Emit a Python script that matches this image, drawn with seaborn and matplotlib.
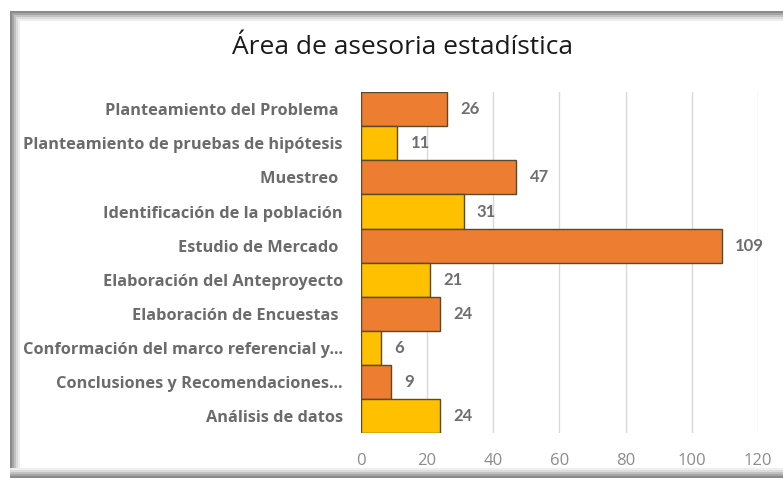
import pandas as pd
import seaborn as sns
import matplotlib.pyplot as plt
from matplotlib.patches import Rectangle

# some of the original labels carry a trailing space
categories = [
    'Planteamiento del Problema ',
    'Planteamiento de pruebas de hipótesis',
    'Muestreo ',
    'Identificación de la población',
    'Estudio de Mercado ',
    'Elaboración del Anteproyecto',
    'Elaboración de Encuestas ',
    'Conformación del marco referencial y...',
    'Conclusiones y Recomendaciones...',
    'Análisis de datos',
]
values = [26, 11, 47, 31, 109, 21, 24, 6, 9, 24]
bar_colors = ['#ED7D31', '#FFC000'] * 5
x_ticks = [0, 20, 40, 60, 80, 100, 120]

df = pd.DataFrame({'area': categories, 'count': values})

sns.set_style('white')
plt.rcParams['font.family'] = ['Open Sans', 'DejaVu Sans']

W, H = 783, 478
fig = plt.figure(figsize=(W / 100, H / 100), dpi=100)
ax = fig.add_axes([0.461, 0.094, 0.507, 0.713])

sns.barplot(data=df, y='area', x='count', hue='area', palette=bar_colors,
            saturation=1, legend=False, width=1.0, edgecolor='#5a4a2a',
            linewidth=1.0, ax=ax, zorder=3)

for i, v in enumerate(values):
    ax.text(v + 4.0, i, str(v), va='center', ha='left', fontsize=12,
            fontweight='bold', color='#6e6e6e', family=['Lato', 'DejaVu Sans'])

ax.set_xlim(0, 120)
ax.set_xticks(x_ticks)
ax.set_xlabel('')
ax.set_ylabel('')
ax.grid(axis='x', color='#d9d9d9', linewidth=1, zorder=0)
for s in ax.spines.values():
    s.set_visible(False)
ax.tick_params(axis='x', labelsize=12, colors='#8c8c8c', length=0, pad=14)
ax.tick_params(axis='y', length=0, pad=13)
for lab in ax.get_yticklabels():
    lab.set_fontweight('bold')
    lab.set_fontsize(11.8)
    lab.set_color('#6b6b6b')

fig.text(402 / W, 1 - 48 / H, 'Área de asesoria estadística', ha='center',
         va='center', fontsize=19, color='#1a1a1a')

# screenshot frame shadow (fading strips)
shades = ['#8a8a8a', '#a5a5a5', '#c2c2c2', '#dcdcdc', '#eeeeee']
for k, c in enumerate(shades):
    # left edge
    fig.patches.append(Rectangle(((10 + 2 * k) / W, 0), 2 / W, 1 - (11 + 2 * k) / H,
                                 transform=fig.transFigure, facecolor=c, edgecolor='none'))
    # top edge
    fig.patches.append(Rectangle(((10 + 2 * k) / W, 1 - (13 + 2 * k) / H), 1, 2 / H,
                                 transform=fig.transFigure, facecolor=c, edgecolor='none'))
for k, c in enumerate(shades[::-1]):
    # bottom edge
    fig.patches.append(Rectangle((10 / W, (8 - 2 * k) / H), 1, 2 / H,
                                 transform=fig.transFigure, facecolor=c, edgecolor='none'))

fig.savefig('out.png', dpi=100)
